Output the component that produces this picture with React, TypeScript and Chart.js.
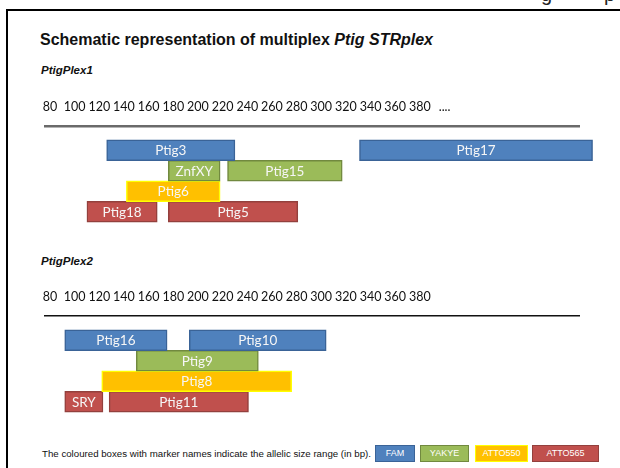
import React, { useEffect, useRef } from "react";
import { Chart, registerables } from "chart.js";

Chart.register(...registerables);

// Dyes (rows) and their colours
const dyes = ["FAM", "YAKYE", "ATTO550", "ATTO565"];
const dyeFill = ["#4F81BD", "#9BBB59", "#FFC000", "#C0504D"];
const dyeBorder = ["#3A6397", "#71893F", "#FFFF00", "#93403D"];

// PtigPlex1 markers: allelic size range in bp
const plex1Markers = ["Ptig3", "Ptig17", "ZnfXY", "Ptig15", "Ptig6", "Ptig18", "Ptig5"];
const plex1Dyes = ["FAM", "FAM", "YAKYE", "YAKYE", "ATTO550", "ATTO565", "ATTO565"];
const plex1Start = [126, 331, 176, 224, 142, 110, 176];
const plex1End = [230, 520, 218, 317, 218, 167, 281];

// PtigPlex2 markers: allelic size range in bp
const plex2Markers = ["Ptig16", "Ptig10", "Ptig9", "Ptig8", "SRY", "Ptig11"];
const plex2Dyes = ["FAM", "FAM", "YAKYE", "ATTO550", "ATTO565", "ATTO565"];
const plex2Start = [92, 193, 150, 122, 92, 128];
const plex2End = [175, 304, 249, 276, 123, 241];

// Size scale tick labels
const plex1TickValues = [80, 100, 120, 140, 160, 180, 200, 220, 240, 260, 280, 300, 320, 340, 360, 380, 400];
const plex1TickLabels = ["80", "100", "120", "140", "160", "180", "200", "220", "240", "260", "280", "300", "320", "340", "360", "380", "...."];
const plex2TickValues = [80, 100, 120, 140, 160, 180, 200, 220, 240, 260, 280, 300, 320, 340, 360, 380];
const plex2TickLabels = ["80", "100", "120", "140", "160", "180", "200", "220", "240", "260", "280", "300", "320", "340", "360", "380"];

const SANS = '"Liberation Sans", Arial, sans-serif';

type PlexProps = {
  markers: string[];
  markerDyes: string[];
  starts: number[];
  ends: number[];
  tickValues: number[];
  tickLabels: string[];
  lineColor: string;
  lineWidth: number;
  top: number;
};

function PlexChart(props: PlexProps) {
  const ref = useRef<HTMLCanvasElement>(null);
  useEffect(() => {
    const { markers, markerDyes, starts, ends, tickValues, tickLabels, lineColor, lineWidth } = props;
    const datasets = dyes.map((dye, di) => {
      const idx = markers.map((_, i) => i).filter((i) => markerDyes[i] === dye);
      return {
        label: dye,
        data: idx.map((i) => ({ x: [starts[i], ends[i]], y: di, name: markers[i] })),
        backgroundColor: dyeFill[di],
        borderColor: dyeBorder[di],
        borderWidth: 1.5,
        borderSkipped: false,
        barThickness: 21,
        grouped: false,
        clip: false as any,
      };
    });
    const labelPlugin = {
      id: "barLabels",
      afterDatasetsDraw(chart: any) {
        const ctx = chart.ctx;
        ctx.save();
        ctx.font = "13.5px Lato";
        ctx.fillStyle = "#f6f6f6";
        ctx.textAlign = "center";
        ctx.textBaseline = "middle";
        chart.data.datasets.forEach((ds: any, di: number) => {
          const meta = chart.getDatasetMeta(di);
          meta.data.forEach((el: any, j: number) => {
            const p = el.getProps(["x", "base", "y"], true);
            ctx.fillText(ds.data[j].name, (p.x + p.base) / 2, p.y + 0.5);
          });
        });
        ctx.restore();
      },
    };
    const chart = new Chart(ref.current as HTMLCanvasElement, {
      type: "bar",
      data: { datasets: datasets as any },
      options: {
        indexAxis: "y",
        animation: false,
        responsive: false,
        maintainAspectRatio: false,
        layout: { padding: { left: 45, right: 41, top: 0, bottom: 0 } },
        plugins: { legend: { display: false }, tooltip: { enabled: false } },
        scales: {
          x: {
            type: "linear",
            position: "top",
            min: 76,
            max: 509,
            grid: { display: false, drawTicks: false },
            border: { display: true, color: lineColor, width: lineWidth },
            afterBuildTicks: (scale: any) => {
              scale.ticks = tickValues.map((v) => ({ value: v }));
            },
            afterFit: (scale: any) => {
              scale.height = 30;
            },
            ticks: {
              autoSkip: false,
              maxRotation: 0,
              padding: 11.5,
              color: "#111",
              font: { family: "Lato", size: 12.5 },
              callback: (_v: any, i: number) => tickLabels[i],
            },
          },
          y: {
            type: "linear",
            display: false,
            reverse: true,
            min: -0.75,
            max: 3.6,
          },
        },
      },
      plugins: [labelPlugin],
    });
    return () => chart.destroy();
  }, []);
  return (
    <canvas
      ref={ref}
      width={620}
      height={137}
      style={{ position: "absolute", left: 0, top: props.top, width: 620, height: 137 }}
    />
  );
}

function LegendBox({ label, i, left, width }: { label: string; i: number; left: number; width: number }) {
  return (
    <div
      style={{
        position: "absolute",
        left,
        top: 445,
        width,
        height: 17,
        boxSizing: "border-box",
        background: dyeFill[i],
        border: `1.5px solid ${dyeBorder[i]}`,
        color: "#fff",
        font: `9px ${SANS}`,
        lineHeight: "14px",
        textAlign: "center",
      }}
    >
      {label}
    </div>
  );
}

export default function App() {
  const legendLefts = [375, 420, 475, 532];
  const legendWidths = [40, 49, 53, 67];
  return (
    <div
      style={{
        position: "absolute",
        left: 0,
        top: 0,
        width: 620,
        height: 468,
        overflow: "hidden",
        background: "#fff",
      }}
    >
      <div
        style={{
          position: "absolute",
          left: 0,
          top: -16,
          width: 620,
          font: `20px ${SANS}`,
          lineHeight: "20px",
          color: "#222",
          whiteSpace: "nowrap",
        }}
      >
        <span style={{ position: "absolute", left: 541 }}>g</span>
        <span style={{ position: "absolute", left: 604 }}>p</span>
      </div>
      <div
        style={{
          position: "absolute",
          left: 6,
          top: 9,
          width: 700,
          height: 600,
          borderLeft: "2px solid #000",
          borderTop: "2px solid #000",
        }}
      />
      <div
        style={{
          position: "absolute",
          left: 40,
          top: 32,
          font: `bold 16px ${SANS}`,
          lineHeight: "16px",
          color: "#111",
          whiteSpace: "nowrap",
        }}
      >
        Schematic representation of multiplex <i>Ptig STRplex</i>
      </div>
      <div
        style={{
          position: "absolute",
          left: 41,
          top: 65,
          font: `italic bold 11.5px ${SANS}`,
          lineHeight: "11.5px",
          color: "#111",
          whiteSpace: "nowrap",
        }}
      >
        PtigPlex1
      </div>
      <div
        style={{
          position: "absolute",
          left: 41,
          top: 256,
          font: `italic bold 11.5px ${SANS}`,
          lineHeight: "11.5px",
          color: "#111",
          whiteSpace: "nowrap",
        }}
      >
        PtigPlex2
      </div>
      <PlexChart
        markers={plex1Markers}
        markerDyes={plex1Dyes}
        starts={plex1Start}
        ends={plex1End}
        tickValues={plex1TickValues}
        tickLabels={plex1TickLabels}
        lineColor="#6a6a6a"
        lineWidth={2.5}
        top={96}
      />
      <PlexChart
        markers={plex2Markers}
        markerDyes={plex2Dyes}
        starts={plex2Start}
        ends={plex2End}
        tickValues={plex2TickValues}
        tickLabels={plex2TickLabels}
        lineColor="#111"
        lineWidth={1.5}
        top={286}
      />
      <div
        style={{
          position: "absolute",
          left: 42,
          top: 449,
          font: `9.7px ${SANS}`,
          lineHeight: "10px",
          color: "#111",
          whiteSpace: "nowrap",
        }}
      >
        The coloured boxes with marker names indicate the allelic size range (in bp).
      </div>
      {dyes.map((d, i) => (
        <LegendBox key={d} label={d} i={i} left={legendLefts[i]} width={legendWidths[i]} />
      ))}
    </div>
  );
}
